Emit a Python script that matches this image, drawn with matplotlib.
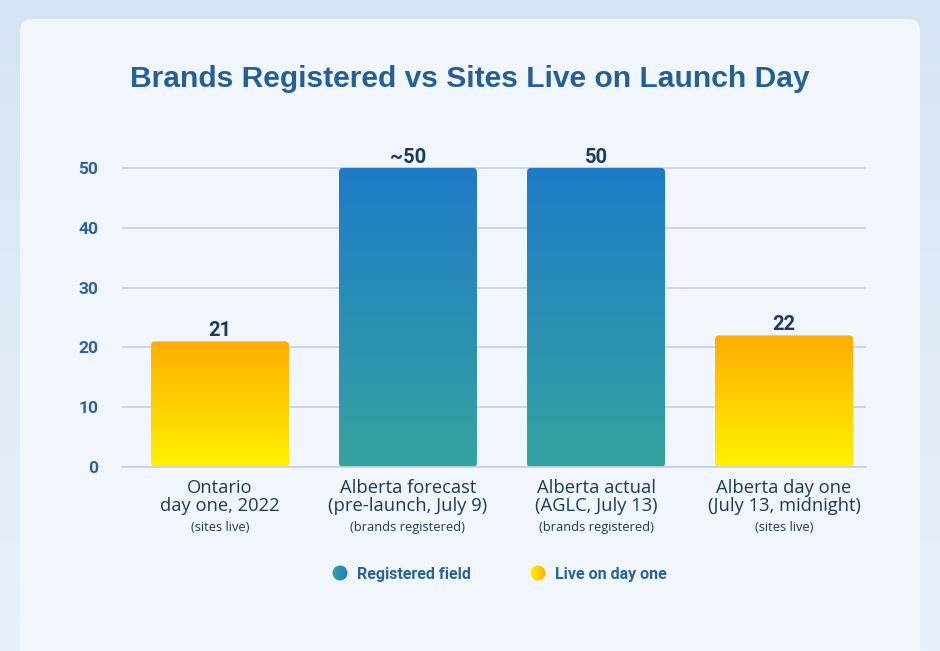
import numpy as np
import matplotlib.pyplot as plt
from matplotlib.patches import FancyBboxPatch, Circle
from matplotlib.colors import LinearSegmentedColormap

categories = ["Ontario\nday one, 2022", "Alberta forecast\n(pre-launch, July 9)",
              "Alberta actual\n(AGLC, July 13)", "Alberta day one\n(July 13, midnight)"]
subnotes = ["(sites live)", "(brands registered)", "(brands registered)", "(sites live)"]
values = [21, 50, 50, 22]
value_labels = ["21", "~50", "50", "22"]
kinds = ["live", "registered", "registered", "live"]
yticks = [0, 10, 20, 30, 40, 50]
legend_names = ["Registered field", "Live on day one"]

# gradients: (bottom, top)
grad = {"registered": ("#36a3a0", "#1e7bc8"), "live": ("#fff200", "#ffad00")}

cond = ["Roboto", "DejaVu Sans"]
navy = "#1b3a5c"
blue_txt = "#2a6398"

fig = plt.figure(figsize=(9.4, 6.51), dpi=100)

# page background
bg = fig.add_axes([0, 0, 1, 1])
bg.set_xlim(0, 940)
bg.set_ylim(651, 0)
bg.axis("off")
bgrad = np.linspace(0, 1, 256).reshape(-1, 1)
bg.imshow(bgrad, extent=[0, 940, 651, 0], aspect="auto",
          cmap=LinearSegmentedColormap.from_list("bg", ["#d5e4f4", "#e9f1fa"]), zorder=0)
card = FancyBboxPatch((20, 19), 900, 660, boxstyle="round,pad=0,rounding_size=12",
                      fc="#f0f6fb", ec="none", zorder=1)
bg.add_patch(card)
bg.text(470, 79, "Brands Registered vs Sites Live on Launch Day", ha="center", va="center",
        fontsize=21.6, fontweight="bold", color="#245f96", family="Liberation Sans", zorder=2)

# legend
leg = [(340, legend_names[0], "registered"), (538, legend_names[1], "live")]
hg = np.linspace(0, 1, 64).reshape(1, -1)
for cx, name, k in leg:
    c = Circle((cx, 573), 7.5, transform=bg.transData)
    im = bg.imshow(hg, extent=[cx - 8, cx + 8, 581, 565], aspect="auto",
                   cmap=LinearSegmentedColormap.from_list(k, list(grad[k])), zorder=3)
    im.set_clip_path(c)
    bg.text(cx + 17, 574, name, ha="left", va="center", fontsize=11.5, fontweight="bold",
            color=blue_txt, family=cond, zorder=3)

ax = fig.add_axes([122 / 940, 1 - 467 / 651, (866 - 122) / 940, (467 - 138) / 651])
ax.set_facecolor("none")
xlim = (-0.521, 3.436)
ax.set_yticks(yticks)
ax.set_yticklabels([str(t) for t in yticks], family=cond, fontweight="bold",
                   fontsize=12.5, color=blue_txt)
ax.grid(axis="y", color="#c9cfe4", lw=1.2)
ax.set_axisbelow(True)
for s in ["top", "right", "left"]:
    ax.spines[s].set_visible(False)
ax.spines["bottom"].set_color("#c9cfe4")
ax.spines["bottom"].set_linewidth(1.2)
ax.tick_params(axis="y", length=0, pad=17)
ax.tick_params(axis="x", length=0)
ax.set_xticks(range(len(categories)))
ax.set_xticklabels([])

w = 0.734
vg = np.linspace(0, 1, 256).reshape(-1, 1)
for i, (v, lab, k) in enumerate(zip(values, value_labels, kinds)):
    x0 = i - w / 2
    p = FancyBboxPatch((x0, 0), w, v, boxstyle="round,pad=0,rounding_size=0.022",
                       mutation_aspect=31.3, fc="none", ec="none")
    ax.add_patch(p)
    im = ax.imshow(vg, extent=[x0, x0 + w, 0, v], origin="lower", aspect="auto",
                   cmap=LinearSegmentedColormap.from_list(k, list(grad[k])), zorder=2)
    im.set_clip_path(p)
    ax.text(i, v + 0.9, lab, ha="center", va="baseline", fontsize=14.5, fontweight="bold",
            color=navy, family=cond)
    ax.text(i, -2.0, categories[i], ha="center", va="top", fontsize=13.2, color=navy,
            family="Open Sans", linespacing=1.0)
    ax.text(i, -9.0, subnotes[i], ha="center", va="top", fontsize=9.3, color=navy,
            family="Open Sans")
ax.set_xlim(*xlim)
ax.set_ylim(0, 55)

fig.savefig("out.png", dpi=100)
